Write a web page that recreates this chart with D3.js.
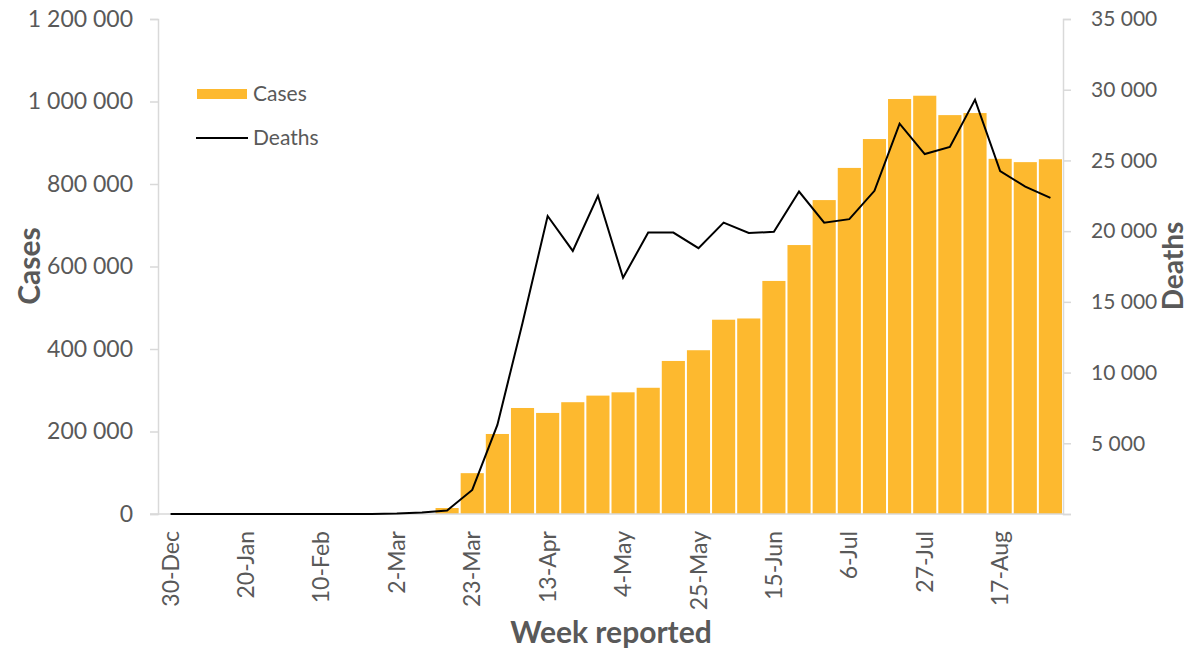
<!DOCTYPE html>
<html><head><meta charset="utf-8">
<script src="https://cdn.jsdelivr.net/npm/d3@7"></script>
<style>
html,body{margin:0;padding:0;background:#fff;}
svg text{font-family:Lato,"Open Sans",sans-serif;fill:#595959;}
</style></head>
<body><svg id="c" width="1191" height="652"></svg>
<script>
const weeks = ["30-Dec","6-Jan","13-Jan","20-Jan","27-Jan","3-Feb","10-Feb","17-Feb","24-Feb","2-Mar","9-Mar","16-Mar","23-Mar","30-Mar","6-Apr","13-Apr","20-Apr","27-Apr","4-May","11-May","18-May","25-May","1-Jun","8-Jun","15-Jun","22-Jun","29-Jun","6-Jul","13-Jul","20-Jul","27-Jul","3-Aug","10-Aug","17-Aug","24-Aug","31-Aug"];
const cases = [0,0,0,0,0,0,0,0,0,0,0,14500,99000,194000,257000,245000,271000,287000,295000,306000,371000,397000,471000,474000,565000,652000,761000,839000,909000,1006000,1014000,967000,972000,861000,853000,860000];
const deaths = [0,0,0,0,0,0,0,0,0,30,100,250,1700,6300,13500,21070,18600,22500,16700,19900,19900,18800,20600,19870,19950,22800,20600,20850,22850,27600,25450,25950,29300,24250,23150,22350];
const xTickLabels = ["30-Dec","20-Jan","10-Feb","2-Mar","23-Mar","13-Apr","4-May","25-May","15-Jun","6-Jul","27-Jul","17-Aug"];
const casesTicks = [0,200000,400000,600000,800000,1000000,1200000];
const deathsTicks = [5000,10000,15000,20000,25000,30000,35000];

const svg = d3.select("#c");
const L = 158, R = 1063, T = 19, B = 514;
const fmt = v => d3.format(",")(v).replace(/,/g, " ");
const grey = "#d9d9d9";

const x = d3.scaleBand().domain(weeks).range([L, R]).paddingInner(0.08).paddingOuter(0.04);
const yL = d3.scaleLinear().domain([0, 1200000]).range([B, T]);
const yR = d3.scaleLinear().domain([0, 35000]).range([B, T]);

// bars
svg.append("g").selectAll("rect").data(weeks).join("rect")
  .attr("x", d => x(d)).attr("width", x.bandwidth())
  .attr("y", (d,i) => yL(cases[i])).attr("height", (d,i) => B - yL(cases[i]))
  .attr("fill", "#FDB92F");

// left axis
const gl = svg.append("g").attr("transform", `translate(${L},0)`)
  .call(d3.axisLeft(yL).tickValues(casesTicks).tickFormat(fmt).tickSize(8).tickPadding(17));
gl.selectAll("path,line").attr("stroke", grey).attr("stroke-width", 1.5);
gl.selectAll("text").attr("font-size", 23).attr("fill", "#595959");

// right axis
const gr = svg.append("g").attr("transform", `translate(${R},0)`)
  .call(d3.axisRight(yR).tickValues([0].concat(deathsTicks)).tickFormat(d => d === 0 ? "" : fmt(d)).tickSize(8).tickPadding(20));
gr.selectAll("path,line").attr("stroke", grey).attr("stroke-width", 1.5);
gr.selectAll("text").attr("font-size", 21).attr("fill", "#595959");

// x axis
const gx = svg.append("g").attr("transform", `translate(0,${B})`)
  .call(d3.axisBottom(x).tickValues(xTickLabels).tickSize(0).tickPadding(0));
gx.select("path").attr("stroke", grey).attr("stroke-width", 1.5).attr("d", `M${L-8},0H${R}`);
gx.selectAll("text").attr("font-size", 23).attr("fill", "#595959")
  .attr("transform", "rotate(-90)").attr("text-anchor", "end")
  .attr("x", -17).attr("y", 0).attr("dy", "0.35em");

// deaths line
const line = d3.line().x((d,i) => x(weeks[i]) + x.bandwidth()/2).y(d => yR(d));
svg.append("path").datum(deaths).attr("d", line)
  .attr("fill", "none").attr("stroke", "#000").attr("stroke-width", 2).attr("stroke-linejoin", "miter");

// axis titles
svg.append("text").attr("transform", "translate(40,266) rotate(-90)").attr("text-anchor", "middle")
  .attr("font-size", 30).attr("font-weight", "bold").text("Cases");
svg.append("text").attr("transform", "translate(1183,266) rotate(-90)").attr("text-anchor", "middle")
  .attr("font-size", 28).attr("font-weight", "bold").text("Deaths");
svg.append("text").attr("x", 611).attr("y", 643).attr("text-anchor", "middle")
  .attr("font-size", 30).attr("font-weight", "bold").text("Week reported");

// legend
const lg = svg.append("g");
lg.append("rect").attr("x", 197).attr("y", 89).attr("width", 50).attr("height", 10).attr("fill", "#FDB92F");
lg.append("text").attr("x", 253).attr("y", 94).attr("dy", "0.35em").attr("font-size", 21).text("Cases");
lg.append("line").attr("x1", 196).attr("x2", 248).attr("y1", 138).attr("y2", 138).attr("stroke", "#000").attr("stroke-width", 2);
lg.append("text").attr("x", 253).attr("y", 138).attr("dy", "0.35em").attr("font-size", 21).text("Deaths");
</script></body></html>
